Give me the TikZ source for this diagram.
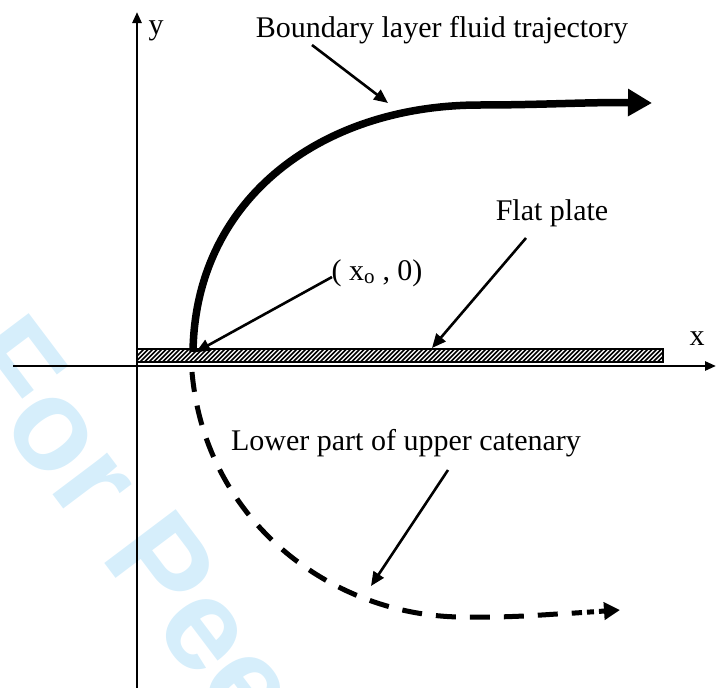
\documentclass[tikz,border=0pt]{standalone}
\usepackage{fontspec}
\setmainfont{Liberation Serif}
\setsansfont{Liberation Sans}
\usetikzlibrary{arrows.meta,calc}
\definecolor{wmBlue}{RGB}{214,238,251}
\tikzset{
    axis/.style={line width=2.6pt, -{Triangle[length=11pt,width=9pt]}},
    pathline/.style={line width=7.5pt, -{Triangle[length=24pt,width=26pt]}},
    catline/.style={line width=5pt, dash pattern=on 20pt off 14pt},
    catend/.style={line width=5pt, dash pattern=on 7pt off 5pt, -{Triangle[length=16pt,width=17pt]}},
    ptr/.style={line width=2.6pt, -{Triangle[length=14pt,width=12pt]}},
    lbl/.style={font=\fontsize{30}{35}\selectfont, inner sep=0pt},
}
\begin{document}
\begin{tikzpicture}[x=1pt,y=-1pt]
\useasboundingbox (0,0) rectangle (718,688);

% watermark
\begin{scope}
\clip (0,0) rectangle (718,688);
\node[font=\sffamily\bfseries\fontsize{130}{130}\selectfont, text=wmBlue,
    rotate=-53, anchor=base west, inner sep=0pt] (wm) at (-48,360) {For Peer Review};
\end{scope}

% axes
\coordinate (O) at (137,366);
\coordinate (xl) at (13,366);
\coordinate (xr) at (716,366);
\coordinate (yb) at (137,688);
\coordinate (yt) at (137,12);
\draw[axis] (xl) -- (xr);
\draw[axis] (yb) -- (yt);
\node[lbl] (ylab) at (156,31) {y};
\node[lbl] (xlab) at (697,339) {x};

% flat plate
\begin{scope}
\clip (137,349) rectangle (663,362);
\foreach \i in {130,134.5,...,680}
    \draw[line width=1.6pt] (\i,363) -- (\i+15,348);
\end{scope}
\draw[line width=1.3pt] (137,349) rectangle (663,362);
\coordinate (plate) at (432,348);

% trajectory (upper) and catenary (lower)
\coordinate (xo) at (193,352);
\coordinate (xotip) at (196,352);
\coordinate (top) at (388,103);
\draw[pathline] (xo) .. controls (195,200) and (320,105) .. (480,105)
    .. controls (540,105) and (590,102) .. (652,103);
\coordinate (cs) at (192,372);
\coordinate (cm) at (575,613);
\coordinate (low) at (371,586);
\draw[catline] (cs) .. controls (205,520) and (330,615) .. (460,617)
    .. controls (515,618) and (550,614) .. (cm);
\draw[catend] (cm) -- (620,610);

% labels
\node[lbl] (blab) at (442,30) {Boundary layer fluid trajectory};
\node[lbl] (flab) at (552,213) {Flat plate};
\node[lbl] (xolab) at (377,273) {( x\textsubscript{o} , 0)};
\node[lbl] (clab) at (406,443) {Lower part of upper catenary};

% pointers
\coordinate (bp) at (312,45);
\coordinate (fp) at (526,238);
\coordinate (xp) at (332,277);
\coordinate (cp) at (448,470);
\draw[ptr] (bp) -- (top);
\draw[ptr] (fp) -- (plate);
\draw[ptr] (xp) -- (xotip);
\draw[ptr] (cp) -- (low);

\end{tikzpicture}
\end{document}
